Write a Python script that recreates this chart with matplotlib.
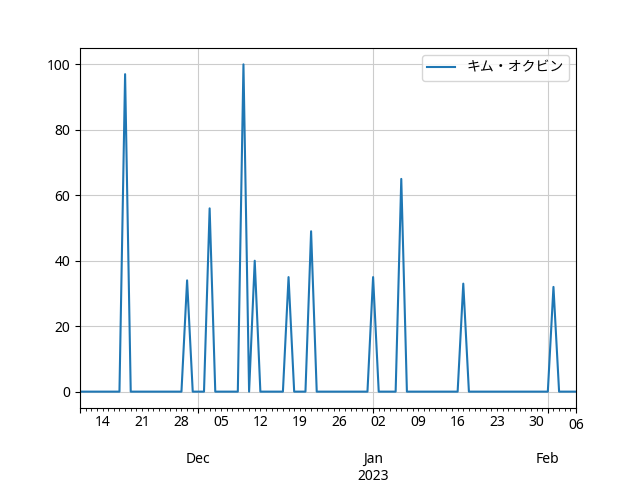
import pandas as pd
import matplotlib
matplotlib.use('Agg')
import matplotlib.pyplot as plt

plt.rcParams['font.family'] = ['Noto Sans', 'Noto Sans CJK JP', 'DejaVu Sans']

start_date = '2022-11-10'
end_date = '2023-02-06'
spike_dates = ['2022-11-18', '2022-11-29', '2022-12-03', '2022-12-09', '2022-12-11',
               '2022-12-17', '2022-12-21', '2023-01-01', '2023-01-06', '2023-01-17',
               '2023-02-02']
spike_values = [97, 34, 56, 100, 40, 35, 49, 35, 65, 33, 32]
label = 'キム・オクビン'

idx = pd.date_range(start_date, end_date, freq='D')
s = pd.Series(0, index=idx, name=label)
s[pd.to_datetime(spike_dates)] = spike_values

fig, ax = plt.subplots(figsize=(6.4, 4.8), dpi=100)
s.plot(ax=ax, grid=True, legend=True)
ax.grid(True, color='#cccccc')
fig.subplots_adjust(top=0.9, bottom=0.15)
fig.savefig('out.png')
